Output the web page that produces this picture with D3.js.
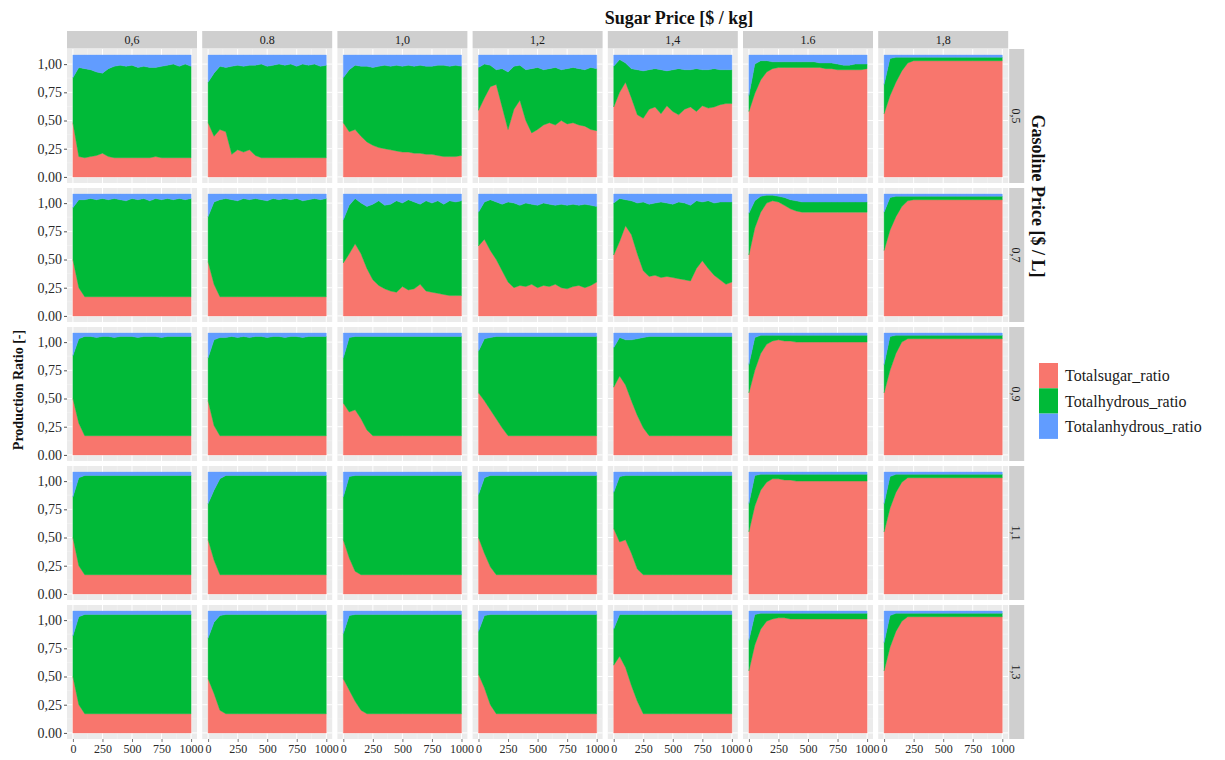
<!DOCTYPE html>
<html>
<head>
<meta charset="utf-8">
<script src="https://cdn.jsdelivr.net/npm/d3@7"></script>
<style>
  body { margin: 0; background: #ffffff; }
  svg { display: block; }
</style>
</head>
<body>
<svg id="chart" width="1225" height="760"></svg>
<script>
// Simulation step (x axis) at which each ratio is recorded
const timeSteps = [0,50,100,150,200,250,300,350,400,450,500,550,600,650,700,750,800,850,900,950,1000];

// Facet levels
const sugarPriceLabels = ["0,6","0.8","1,0","1,2","1,4","1.6","1,8"];
const gasolinePriceLabels = ["0,5","0,7","0,9","1,1","1,3"];

// Axis ticks
const yTickValues = [0, 0.25, 0.5, 0.75, 1];
const yTickLabels = ["0.00","0,25","0,50","0,75","1,00"];
const xTickValues = [0, 250, 500, 750, 1000];
const xTickLabels = ["0","250","500","750","1000"];

const seriesKeys = ["sugar","hydrous","anhydrous"];
const seriesNames = ["Totalsugar_ratio","Totalhydrous_ratio","Totalanhydrous_ratio"];
const seriesColors = ["#F8766D","#00BA38","#619CFF"];

// ---- Gasoline price 0,5 (one array per sugar price column) ----
const sugar_G05 = [
  [0.48,0.18,0.17,0.18,0.19,0.21,0.18,0.17,0.17,0.17,0.17,0.17,0.17,0.17,0.18,0.17,0.17,0.17,0.17,0.17,0.17],
  [0.48,0.36,0.42,0.40,0.20,0.24,0.22,0.24,0.19,0.17,0.17,0.17,0.17,0.17,0.17,0.17,0.17,0.17,0.17,0.17,0.17],
  [0.48,0.40,0.42,0.36,0.31,0.28,0.26,0.25,0.24,0.23,0.22,0.22,0.21,0.21,0.20,0.20,0.19,0.18,0.18,0.18,0.19],
  [0.59,0.70,0.80,0.82,0.62,0.42,0.60,0.68,0.50,0.39,0.42,0.46,0.48,0.46,0.50,0.47,0.48,0.46,0.45,0.42,0.41],
  [0.62,0.75,0.84,0.70,0.55,0.52,0.60,0.62,0.56,0.63,0.58,0.55,0.60,0.62,0.58,0.63,0.61,0.62,0.64,0.65,0.65],
  [0.58,0.74,0.86,0.93,0.96,0.97,0.97,0.97,0.97,0.97,0.97,0.97,0.97,0.96,0.96,0.95,0.95,0.95,0.95,0.95,0.96],
  [0.56,0.72,0.84,0.94,1.01,1.03,1.03,1.03,1.03,1.03,1.03,1.03,1.03,1.03,1.03,1.03,1.03,1.03,1.03,1.03,1.03]
];
const hydrous_G05 = [
  [0.40,0.79,0.79,0.77,0.74,0.71,0.78,0.81,0.82,0.81,0.82,0.80,0.81,0.80,0.79,0.81,0.82,0.83,0.81,0.83,0.81],
  [0.36,0.56,0.56,0.57,0.78,0.75,0.76,0.75,0.80,0.83,0.81,0.82,0.83,0.82,0.83,0.81,0.83,0.82,0.83,0.81,0.82],
  [0.40,0.55,0.57,0.62,0.67,0.69,0.72,0.74,0.74,0.76,0.76,0.77,0.77,0.78,0.78,0.78,0.80,0.81,0.80,0.81,0.79],
  [0.38,0.30,0.19,0.13,0.34,0.51,0.38,0.31,0.45,0.57,0.55,0.49,0.48,0.51,0.45,0.49,0.49,0.50,0.50,0.55,0.55],
  [0.36,0.29,0.17,0.26,0.40,0.42,0.35,0.34,0.39,0.31,0.37,0.41,0.35,0.33,0.38,0.32,0.34,0.34,0.31,0.30,0.30],
  [0.14,0.26,0.17,0.10,0.06,0.05,0.05,0.05,0.05,0.05,0.05,0.05,0.04,0.05,0.05,0.05,0.04,0.04,0.05,0.05,0.04],
  [0.26,0.33,0.22,0.12,0.05,0.03,0.03,0.03,0.03,0.03,0.03,0.03,0.03,0.03,0.03,0.03,0.03,0.03,0.03,0.03,0.03]
];
const anhydrous_G05 = [
  [0.20,0.11,0.12,0.13,0.15,0.16,0.12,0.10,0.09,0.10,0.09,0.11,0.10,0.11,0.11,0.10,0.09,0.08,0.10,0.08,0.10],
  [0.24,0.16,0.10,0.11,0.10,0.09,0.10,0.09,0.09,0.08,0.10,0.09,0.08,0.09,0.08,0.10,0.08,0.09,0.08,0.10,0.09],
  [0.20,0.13,0.09,0.10,0.10,0.11,0.10,0.09,0.10,0.09,0.10,0.09,0.10,0.09,0.10,0.10,0.09,0.09,0.10,0.09,0.10],
  [0.11,0.08,0.09,0.13,0.12,0.15,0.10,0.09,0.13,0.12,0.11,0.13,0.12,0.11,0.13,0.12,0.11,0.12,0.13,0.11,0.12],
  [0.10,0.04,0.07,0.12,0.13,0.14,0.13,0.12,0.13,0.14,0.13,0.12,0.13,0.13,0.12,0.13,0.13,0.12,0.13,0.13,0.13],
  [0.36,0.08,0.05,0.05,0.06,0.06,0.06,0.06,0.06,0.06,0.06,0.06,0.07,0.07,0.07,0.08,0.09,0.09,0.08,0.08,0.08],
  [0.26,0.03,0.02,0.02,0.02,0.02,0.02,0.02,0.02,0.02,0.02,0.02,0.02,0.02,0.02,0.02,0.02,0.02,0.02,0.02,0.02]
];

// ---- Gasoline price 0,7 ----
const sugar_G07 = [
  [0.50,0.25,0.17,0.17,0.17,0.17,0.17,0.17,0.17,0.17,0.17,0.17,0.17,0.17,0.17,0.17,0.17,0.17,0.17,0.17,0.17],
  [0.48,0.28,0.17,0.17,0.17,0.17,0.17,0.17,0.17,0.17,0.17,0.17,0.17,0.17,0.17,0.17,0.17,0.17,0.17,0.17,0.17],
  [0.47,0.55,0.64,0.55,0.42,0.32,0.27,0.24,0.22,0.21,0.26,0.23,0.24,0.28,0.22,0.21,0.20,0.19,0.18,0.18,0.18],
  [0.62,0.68,0.58,0.50,0.40,0.30,0.25,0.27,0.26,0.28,0.25,0.27,0.26,0.28,0.25,0.24,0.26,0.27,0.25,0.27,0.30],
  [0.54,0.66,0.80,0.72,0.55,0.40,0.35,0.36,0.34,0.35,0.34,0.33,0.32,0.31,0.42,0.49,0.42,0.36,0.32,0.28,0.30],
  [0.54,0.78,0.92,1.00,1.02,1.01,0.98,0.95,0.93,0.92,0.92,0.92,0.92,0.92,0.92,0.92,0.92,0.92,0.92,0.92,0.92],
  [0.58,0.76,0.88,0.97,1.02,1.03,1.03,1.03,1.03,1.03,1.03,1.03,1.03,1.03,1.03,1.03,1.03,1.03,1.03,1.03,1.03]
];
const hydrous_G07 = [
  [0.46,0.78,0.86,0.87,0.86,0.87,0.86,0.87,0.86,0.85,0.87,0.86,0.87,0.85,0.87,0.86,0.87,0.86,0.87,0.86,0.87],
  [0.40,0.73,0.86,0.87,0.86,0.85,0.87,0.86,0.87,0.86,0.85,0.87,0.86,0.87,0.86,0.87,0.85,0.86,0.87,0.86,0.87],
  [0.38,0.43,0.40,0.45,0.55,0.67,0.75,0.74,0.77,0.81,0.74,0.80,0.77,0.71,0.80,0.79,0.82,0.80,0.84,0.83,0.84],
  [0.30,0.33,0.45,0.51,0.59,0.71,0.75,0.71,0.74,0.71,0.73,0.73,0.73,0.70,0.74,0.74,0.73,0.71,0.74,0.71,0.67],
  [0.46,0.38,0.23,0.30,0.45,0.61,0.64,0.64,0.67,0.65,0.65,0.68,0.68,0.67,0.60,0.52,0.60,0.64,0.69,0.73,0.71],
  [0.37,0.24,0.14,0.07,0.05,0.05,0.07,0.08,0.09,0.09,0.09,0.09,0.09,0.09,0.09,0.09,0.09,0.09,0.09,0.09,0.09],
  [0.34,0.29,0.18,0.09,0.04,0.03,0.03,0.03,0.03,0.03,0.03,0.03,0.03,0.03,0.03,0.03,0.03,0.03,0.03,0.03,0.03]
];
const anhydrous_G07 = [
  [0.12,0.05,0.05,0.04,0.05,0.04,0.05,0.04,0.05,0.06,0.04,0.05,0.04,0.06,0.04,0.05,0.04,0.05,0.04,0.05,0.04],
  [0.20,0.07,0.05,0.04,0.05,0.06,0.04,0.05,0.04,0.05,0.06,0.04,0.05,0.04,0.05,0.04,0.06,0.05,0.04,0.05,0.04],
  [0.23,0.10,0.04,0.08,0.11,0.09,0.06,0.10,0.09,0.06,0.08,0.05,0.07,0.09,0.06,0.08,0.06,0.09,0.06,0.07,0.06],
  [0.16,0.07,0.05,0.07,0.09,0.07,0.08,0.10,0.08,0.09,0.10,0.08,0.09,0.10,0.09,0.10,0.09,0.10,0.09,0.10,0.11],
  [0.08,0.04,0.05,0.06,0.08,0.07,0.09,0.08,0.07,0.08,0.09,0.07,0.08,0.10,0.06,0.07,0.06,0.08,0.07,0.07,0.07],
  [0.17,0.06,0.02,0.01,0.01,0.02,0.03,0.05,0.06,0.07,0.07,0.07,0.07,0.07,0.07,0.07,0.07,0.07,0.07,0.07,0.07],
  [0.16,0.03,0.02,0.02,0.02,0.02,0.02,0.02,0.02,0.02,0.02,0.02,0.02,0.02,0.02,0.02,0.02,0.02,0.02,0.02,0.02]
];

// ---- Gasoline price 0,9 ----
const sugar_G09 = [
  [0.50,0.28,0.17,0.17,0.17,0.17,0.17,0.17,0.17,0.17,0.17,0.17,0.17,0.17,0.17,0.17,0.17,0.17,0.17,0.17,0.17],
  [0.48,0.26,0.17,0.17,0.17,0.17,0.17,0.17,0.17,0.17,0.17,0.17,0.17,0.17,0.17,0.17,0.17,0.17,0.17,0.17,0.17],
  [0.46,0.38,0.40,0.32,0.22,0.17,0.17,0.17,0.17,0.17,0.17,0.17,0.17,0.17,0.17,0.17,0.17,0.17,0.17,0.17,0.17],
  [0.55,0.48,0.40,0.32,0.24,0.17,0.17,0.17,0.17,0.17,0.17,0.17,0.17,0.17,0.17,0.17,0.17,0.17,0.17,0.17,0.17],
  [0.60,0.70,0.62,0.48,0.35,0.24,0.17,0.17,0.17,0.17,0.17,0.17,0.17,0.17,0.17,0.17,0.17,0.17,0.17,0.17,0.17],
  [0.55,0.75,0.90,0.98,1.01,1.02,1.01,1.01,1.00,1.00,1.00,1.00,1.00,1.00,1.00,1.00,1.00,1.00,1.00,1.00,1.00],
  [0.55,0.75,0.90,1.00,1.03,1.03,1.03,1.03,1.03,1.03,1.03,1.03,1.03,1.03,1.03,1.03,1.03,1.03,1.03,1.03,1.03]
];
const hydrous_G09 = [
  [0.38,0.75,0.88,0.88,0.87,0.88,0.88,0.87,0.88,0.88,0.88,0.87,0.88,0.88,0.88,0.87,0.88,0.88,0.88,0.88,0.88],
  [0.38,0.76,0.87,0.87,0.88,0.87,0.88,0.87,0.88,0.88,0.87,0.88,0.88,0.87,0.88,0.88,0.87,0.88,0.88,0.88,0.88],
  [0.40,0.66,0.65,0.73,0.83,0.88,0.88,0.88,0.88,0.88,0.88,0.88,0.88,0.88,0.88,0.88,0.88,0.88,0.88,0.88,0.88],
  [0.37,0.55,0.64,0.73,0.81,0.88,0.88,0.88,0.88,0.88,0.88,0.88,0.88,0.88,0.88,0.88,0.88,0.88,0.88,0.88,0.88],
  [0.35,0.34,0.40,0.54,0.68,0.80,0.88,0.88,0.88,0.88,0.88,0.88,0.88,0.88,0.88,0.88,0.88,0.88,0.88,0.88,0.88],
  [0.25,0.29,0.16,0.08,0.05,0.04,0.05,0.05,0.06,0.06,0.06,0.06,0.06,0.06,0.06,0.06,0.06,0.06,0.06,0.06,0.06],
  [0.25,0.30,0.16,0.06,0.03,0.03,0.03,0.03,0.03,0.03,0.03,0.03,0.03,0.03,0.03,0.03,0.03,0.03,0.03,0.03,0.03]
];
const anhydrous_G09 = [
  [0.20,0.05,0.03,0.03,0.04,0.03,0.03,0.04,0.03,0.03,0.03,0.04,0.03,0.03,0.03,0.04,0.03,0.03,0.03,0.03,0.03],
  [0.22,0.06,0.04,0.04,0.03,0.04,0.03,0.04,0.03,0.03,0.04,0.03,0.03,0.04,0.03,0.03,0.04,0.03,0.03,0.03,0.03],
  [0.22,0.04,0.03,0.03,0.03,0.03,0.03,0.03,0.03,0.03,0.03,0.03,0.03,0.03,0.03,0.03,0.03,0.03,0.03,0.03,0.03],
  [0.16,0.05,0.04,0.03,0.03,0.03,0.03,0.03,0.03,0.03,0.03,0.03,0.03,0.03,0.03,0.03,0.03,0.03,0.03,0.03,0.03],
  [0.13,0.04,0.06,0.06,0.05,0.04,0.03,0.03,0.03,0.03,0.03,0.03,0.03,0.03,0.03,0.03,0.03,0.03,0.03,0.03,0.03],
  [0.28,0.04,0.02,0.02,0.02,0.02,0.02,0.02,0.02,0.02,0.02,0.02,0.02,0.02,0.02,0.02,0.02,0.02,0.02,0.02,0.02],
  [0.28,0.03,0.02,0.02,0.02,0.02,0.02,0.02,0.02,0.02,0.02,0.02,0.02,0.02,0.02,0.02,0.02,0.02,0.02,0.02,0.02]
];

// ---- Gasoline price 1,1 ----
const sugar_G11 = [
  [0.50,0.25,0.17,0.17,0.17,0.17,0.17,0.17,0.17,0.17,0.17,0.17,0.17,0.17,0.17,0.17,0.17,0.17,0.17,0.17,0.17],
  [0.48,0.30,0.17,0.17,0.17,0.17,0.17,0.17,0.17,0.17,0.17,0.17,0.17,0.17,0.17,0.17,0.17,0.17,0.17,0.17,0.17],
  [0.48,0.32,0.20,0.17,0.17,0.17,0.17,0.17,0.17,0.17,0.17,0.17,0.17,0.17,0.17,0.17,0.17,0.17,0.17,0.17,0.17],
  [0.50,0.36,0.24,0.17,0.17,0.17,0.17,0.17,0.17,0.17,0.17,0.17,0.17,0.17,0.17,0.17,0.17,0.17,0.17,0.17,0.17],
  [0.58,0.46,0.48,0.36,0.22,0.17,0.17,0.17,0.17,0.17,0.17,0.17,0.17,0.17,0.17,0.17,0.17,0.17,0.17,0.17,0.17],
  [0.55,0.78,0.92,0.99,1.02,1.02,1.01,1.01,1.00,1.00,1.00,1.00,1.00,1.00,1.00,1.00,1.00,1.00,1.00,1.00,1.00],
  [0.55,0.76,0.90,0.99,1.03,1.03,1.03,1.03,1.03,1.03,1.03,1.03,1.03,1.03,1.03,1.03,1.03,1.03,1.03,1.03,1.03]
];
const hydrous_G11 = [
  [0.36,0.78,0.88,0.88,0.88,0.88,0.88,0.88,0.88,0.88,0.88,0.88,0.88,0.88,0.88,0.88,0.88,0.88,0.88,0.88,0.88],
  [0.32,0.62,0.85,0.88,0.88,0.88,0.88,0.88,0.88,0.88,0.88,0.88,0.88,0.88,0.88,0.88,0.88,0.88,0.88,0.88,0.88],
  [0.38,0.72,0.85,0.88,0.88,0.88,0.88,0.88,0.88,0.88,0.88,0.88,0.88,0.88,0.88,0.88,0.88,0.88,0.88,0.88,0.88],
  [0.38,0.67,0.81,0.88,0.88,0.88,0.88,0.88,0.88,0.88,0.88,0.88,0.88,0.88,0.88,0.88,0.88,0.88,0.88,0.88,0.88],
  [0.32,0.58,0.57,0.69,0.83,0.88,0.88,0.88,0.88,0.88,0.88,0.88,0.88,0.88,0.88,0.88,0.88,0.88,0.88,0.88,0.88],
  [0.25,0.27,0.14,0.07,0.04,0.04,0.05,0.05,0.06,0.06,0.06,0.06,0.06,0.06,0.06,0.06,0.06,0.06,0.06,0.06,0.06],
  [0.25,0.28,0.16,0.07,0.03,0.03,0.03,0.03,0.03,0.03,0.03,0.03,0.03,0.03,0.03,0.03,0.03,0.03,0.03,0.03,0.03]
];
const anhydrous_G11 = [
  [0.22,0.05,0.03,0.03,0.03,0.03,0.03,0.03,0.03,0.03,0.03,0.03,0.03,0.03,0.03,0.03,0.03,0.03,0.03,0.03,0.03],
  [0.28,0.16,0.06,0.03,0.03,0.03,0.03,0.03,0.03,0.03,0.03,0.03,0.03,0.03,0.03,0.03,0.03,0.03,0.03,0.03,0.03],
  [0.22,0.04,0.03,0.03,0.03,0.03,0.03,0.03,0.03,0.03,0.03,0.03,0.03,0.03,0.03,0.03,0.03,0.03,0.03,0.03,0.03],
  [0.20,0.05,0.03,0.03,0.03,0.03,0.03,0.03,0.03,0.03,0.03,0.03,0.03,0.03,0.03,0.03,0.03,0.03,0.03,0.03,0.03],
  [0.18,0.04,0.03,0.03,0.03,0.03,0.03,0.03,0.03,0.03,0.03,0.03,0.03,0.03,0.03,0.03,0.03,0.03,0.03,0.03,0.03],
  [0.28,0.03,0.02,0.02,0.02,0.02,0.02,0.02,0.02,0.02,0.02,0.02,0.02,0.02,0.02,0.02,0.02,0.02,0.02,0.02,0.02],
  [0.28,0.04,0.02,0.02,0.02,0.02,0.02,0.02,0.02,0.02,0.02,0.02,0.02,0.02,0.02,0.02,0.02,0.02,0.02,0.02,0.02]
];

// ---- Gasoline price 1,3 ----
const sugar_G13 = [
  [0.50,0.25,0.17,0.17,0.17,0.17,0.17,0.17,0.17,0.17,0.17,0.17,0.17,0.17,0.17,0.17,0.17,0.17,0.17,0.17,0.17],
  [0.48,0.35,0.20,0.17,0.17,0.17,0.17,0.17,0.17,0.17,0.17,0.17,0.17,0.17,0.17,0.17,0.17,0.17,0.17,0.17,0.17],
  [0.48,0.38,0.28,0.20,0.17,0.17,0.17,0.17,0.17,0.17,0.17,0.17,0.17,0.17,0.17,0.17,0.17,0.17,0.17,0.17,0.17],
  [0.52,0.40,0.25,0.17,0.17,0.17,0.17,0.17,0.17,0.17,0.17,0.17,0.17,0.17,0.17,0.17,0.17,0.17,0.17,0.17,0.17],
  [0.60,0.68,0.58,0.42,0.28,0.17,0.17,0.17,0.17,0.17,0.17,0.17,0.17,0.17,0.17,0.17,0.17,0.17,0.17,0.17,0.17],
  [0.55,0.78,0.92,0.99,1.01,1.02,1.02,1.01,1.01,1.01,1.01,1.01,1.01,1.01,1.01,1.01,1.01,1.01,1.01,1.01,1.01],
  [0.55,0.76,0.90,0.99,1.03,1.03,1.03,1.03,1.03,1.03,1.03,1.03,1.03,1.03,1.03,1.03,1.03,1.03,1.03,1.03,1.03]
];
const hydrous_G13 = [
  [0.36,0.78,0.88,0.88,0.88,0.88,0.88,0.88,0.88,0.88,0.88,0.88,0.88,0.88,0.88,0.88,0.88,0.88,0.88,0.88,0.88],
  [0.36,0.63,0.84,0.88,0.88,0.88,0.88,0.88,0.88,0.88,0.88,0.88,0.88,0.88,0.88,0.88,0.88,0.88,0.88,0.88,0.88],
  [0.40,0.66,0.77,0.85,0.88,0.88,0.88,0.88,0.88,0.88,0.88,0.88,0.88,0.88,0.88,0.88,0.88,0.88,0.88,0.88,0.88],
  [0.38,0.64,0.80,0.88,0.88,0.88,0.88,0.88,0.88,0.88,0.88,0.88,0.88,0.88,0.88,0.88,0.88,0.88,0.88,0.88,0.88],
  [0.32,0.37,0.47,0.63,0.77,0.88,0.88,0.88,0.88,0.88,0.88,0.88,0.88,0.88,0.88,0.88,0.88,0.88,0.88,0.88,0.88],
  [0.27,0.27,0.14,0.07,0.05,0.04,0.04,0.05,0.05,0.05,0.05,0.05,0.05,0.05,0.05,0.05,0.05,0.05,0.05,0.05,0.05],
  [0.25,0.28,0.16,0.07,0.03,0.03,0.03,0.03,0.03,0.03,0.03,0.03,0.03,0.03,0.03,0.03,0.03,0.03,0.03,0.03,0.03]
];
const anhydrous_G13 = [
  [0.22,0.05,0.03,0.03,0.03,0.03,0.03,0.03,0.03,0.03,0.03,0.03,0.03,0.03,0.03,0.03,0.03,0.03,0.03,0.03,0.03],
  [0.24,0.10,0.04,0.03,0.03,0.03,0.03,0.03,0.03,0.03,0.03,0.03,0.03,0.03,0.03,0.03,0.03,0.03,0.03,0.03,0.03],
  [0.20,0.04,0.03,0.03,0.03,0.03,0.03,0.03,0.03,0.03,0.03,0.03,0.03,0.03,0.03,0.03,0.03,0.03,0.03,0.03,0.03],
  [0.18,0.04,0.03,0.03,0.03,0.03,0.03,0.03,0.03,0.03,0.03,0.03,0.03,0.03,0.03,0.03,0.03,0.03,0.03,0.03,0.03],
  [0.16,0.03,0.03,0.03,0.03,0.03,0.03,0.03,0.03,0.03,0.03,0.03,0.03,0.03,0.03,0.03,0.03,0.03,0.03,0.03,0.03],
  [0.26,0.03,0.02,0.02,0.02,0.02,0.02,0.02,0.02,0.02,0.02,0.02,0.02,0.02,0.02,0.02,0.02,0.02,0.02,0.02,0.02],
  [0.28,0.04,0.02,0.02,0.02,0.02,0.02,0.02,0.02,0.02,0.02,0.02,0.02,0.02,0.02,0.02,0.02,0.02,0.02,0.02,0.02]
];

const facetRows = [
  { sugar: sugar_G05, hydrous: hydrous_G05, anhydrous: anhydrous_G05 },
  { sugar: sugar_G07, hydrous: hydrous_G07, anhydrous: anhydrous_G07 },
  { sugar: sugar_G09, hydrous: hydrous_G09, anhydrous: anhydrous_G09 },
  { sugar: sugar_G11, hydrous: hydrous_G11, anhydrous: anhydrous_G11 },
  { sugar: sugar_G13, hydrous: hydrous_G13, anhydrous: anhydrous_G13 }
];

// ---------------- layout ----------------
const FONT = "'Liberation Serif', 'Times New Roman', serif";
const left0 = 67, pitchX = 135.2, panelW = 130;
const top0 = 49, pitchY = 139, panelH = 134;
const stripTop = 31, stripH = 17.5;
const rightStripX = left0 + 6 * pitchX + panelW + 1, rightStripW = 15;

const svg = d3.select("#chart");

// Shared panel scales (5% padding on both axes)
const x = d3.scaleLinear().domain([-50, 1050]).range([0, panelW]);
const y = d3.scaleLinear().domain([-0.054, 1.134]).range([panelH, 0]);

const stack = d3.stack().keys(seriesKeys);
const area = d3.area()
  .x(d => x(d.data.t))
  .y0(d => y(d[0]))
  .y1(d => y(d[1]));

facetRows.forEach((row, r) => {
  sugarPriceLabels.forEach((_, c) => {
    const table = timeSteps.map((t, i) => ({
      t,
      sugar: row.sugar[c][i],
      hydrous: row.hydrous[c][i],
      anhydrous: row.anhydrous[c][i]
    }));
    const g = svg.append("g")
      .attr("transform", `translate(${left0 + c * pitchX},${top0 + r * pitchY})`);

    g.append("rect").attr("width", panelW).attr("height", panelH).attr("fill", "#EBEBEB");

    // minor + major grid
    const minorY = [0.125, 0.375, 0.625, 0.875];
    const minorX = [125, 375, 625, 875];
    g.selectAll(".gmy").data(minorY).join("line")
      .attr("x1", 0).attr("x2", panelW).attr("y1", d => y(d)).attr("y2", d => y(d))
      .attr("stroke", "#f5f5f5").attr("stroke-width", 0.5);
    g.selectAll(".gmx").data(minorX).join("line")
      .attr("y1", 0).attr("y2", panelH).attr("x1", d => x(d)).attr("x2", d => x(d))
      .attr("stroke", "#f5f5f5").attr("stroke-width", 0.5);
    g.selectAll(".gy").data(yTickValues).join("line")
      .attr("x1", 0).attr("x2", panelW).attr("y1", d => y(d)).attr("y2", d => y(d))
      .attr("stroke", "#ffffff").attr("stroke-width", 1);
    g.selectAll(".gx").data(xTickValues).join("line")
      .attr("y1", 0).attr("y2", panelH).attr("x1", d => x(d)).attr("x2", d => x(d))
      .attr("stroke", "#ffffff").attr("stroke-width", 1);

    const layers = stack(table);
    g.selectAll("path.layer").data(layers).join("path")
      .attr("class", "layer")
      .attr("d", area)
      .attr("fill", (d, i) => seriesColors[i])
      .attr("stroke", (d, i) => seriesColors[i])
      .attr("stroke-width", 0.4);
  });

  // y axis for this row
  const ay = svg.append("g")
    .attr("transform", `translate(${left0},${top0 + r * pitchY})`)
    .call(d3.axisLeft(y).tickValues(yTickValues).tickFormat((d, i) => yTickLabels[i]).tickSize(3).tickPadding(2));
  ay.select(".domain").remove();
  ay.selectAll(".tick line").attr("stroke", "#555");
  ay.selectAll(".tick text").attr("font-family", FONT).attr("font-size", 14).attr("fill", "#2a2a2a");

  // right-hand strip
  const sy = top0 + r * pitchY;
  svg.append("rect").attr("x", rightStripX).attr("y", sy).attr("width", rightStripW).attr("height", panelH)
    .attr("fill", "#CFCFCF");
  svg.append("text")
    .attr("transform", `translate(${rightStripX + rightStripW / 2},${sy + panelH / 2}) rotate(90)`)
    .attr("text-anchor", "middle").attr("dy", "0.35em")
    .attr("font-family", FONT).attr("font-size", 12).attr("fill", "#1a1a1a")
    .text(gasolinePriceLabels[r]);
});

// top strips
sugarPriceLabels.forEach((lab, c) => {
  const sx = left0 + c * pitchX;
  svg.append("rect").attr("x", sx).attr("y", stripTop).attr("width", panelW).attr("height", stripH)
    .attr("fill", "#CFCFCF");
  svg.append("text")
    .attr("x", sx + panelW / 2).attr("y", stripTop + stripH / 2).attr("dy", "0.35em")
    .attr("text-anchor", "middle")
    .attr("font-family", FONT).attr("font-size", 12).attr("fill", "#1a1a1a")
    .text(lab);
});

// bottom x axes
sugarPriceLabels.forEach((_, c) => {
  const ax = svg.append("g")
    .attr("transform", `translate(${left0 + c * pitchX},${top0 + 4 * pitchY + panelH})`)
    .call(d3.axisBottom(x).tickValues(xTickValues).tickFormat((d, i) => xTickLabels[i]).tickSize(3).tickPadding(2));
  ax.select(".domain").remove();
  ax.selectAll(".tick line").attr("stroke", "#777");
  ax.selectAll(".tick text").attr("font-family", FONT).attr("font-size", 12).attr("fill", "#2a2a2a");
});

// titles
svg.append("text")
  .attr("x", 679).attr("y", 24).attr("text-anchor", "middle")
  .attr("font-family", FONT).attr("font-weight", "bold").attr("font-size", 18).attr("fill", "#111")
  .text("Sugar Price [$ / kg]");
svg.append("text")
  .attr("transform", `translate(1032,196) rotate(90)`)
  .attr("text-anchor", "middle")
  .attr("font-family", FONT).attr("font-weight", "bold").attr("font-size", 18).attr("fill", "#111")
  .text("Gasoline Price [$ / L]");
svg.append("text")
  .attr("transform", `translate(23,390) rotate(-90)`)
  .attr("text-anchor", "middle")
  .attr("font-family", FONT).attr("font-weight", "bold").attr("font-size", 14).attr("fill", "#111")
  .text("Production Ratio [-]");

// legend
const legend = svg.append("g").attr("transform", "translate(1039,363)");
seriesNames.forEach((name, i) => {
  legend.append("rect").attr("x", 0).attr("y", i * 25.3).attr("width", 19).attr("height", 25.3)
    .attr("fill", seriesColors[i]);
  legend.append("text")
    .attr("x", 26).attr("y", i * 25.3 + 12.6).attr("dy", "0.35em")
    .attr("font-family", FONT).attr("font-size", 16).attr("fill", "#1a1a1a")
    .text(name);
});

// sanity check on series lengths
facetRows.forEach((row, r) => seriesKeys.forEach(k => row[k].forEach((arr, c) => {
  if (arr.length !== timeSteps.length) console.error(`length mismatch row ${r} ${k} col ${c}: ${arr.length}`);
})));
</script>
</body>
</html>
